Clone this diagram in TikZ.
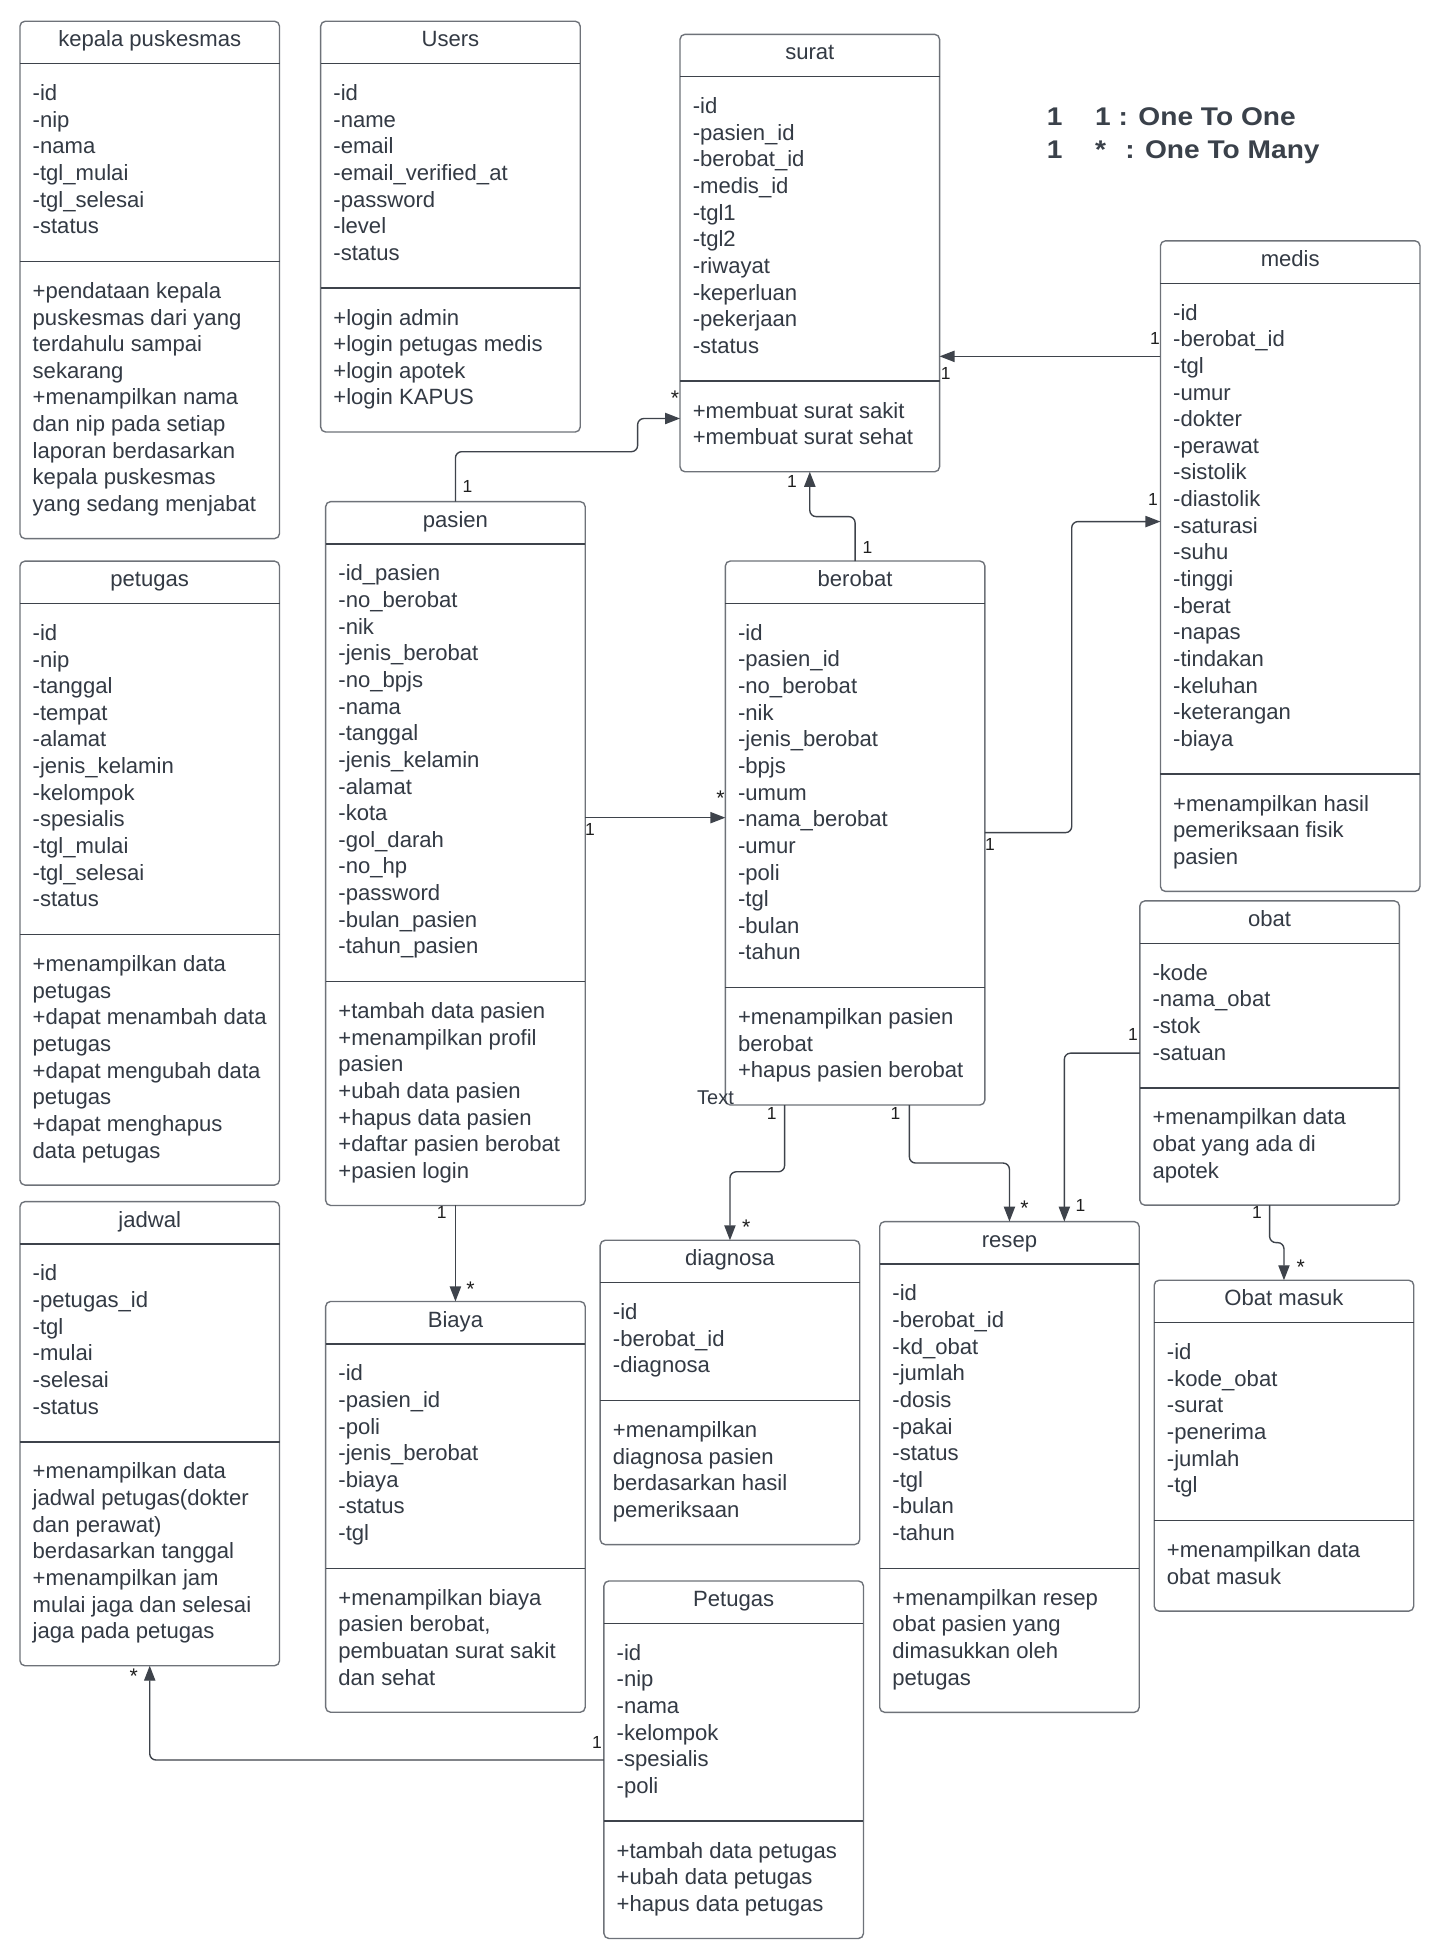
\documentclass[tikz,border=0pt]{standalone}
\usepackage{fontspec}
\usepackage{graphicx}
\setmainfont{Liberation Sans}
\usetikzlibrary{arrows.meta,calc}
\definecolor{txtc}{HTML}{333A44}
\definecolor{boxc}{HTML}{6E7279}
\definecolor{divc}{HTML}{3E434B}
\definecolor{linec}{HTML}{3E434B}
\definecolor{multc}{HTML}{1E1E1E}
\definecolor{legc}{HTML}{3A414A}
\tikzset{
  umlbox/.style={draw=boxc, fill=white, line width=1.1pt, rounded corners=4pt,
    minimum width=208pt, inner sep=0pt, outer sep=0pt},
  divline/.style={draw=divc, line width=1.1pt},
  bodytext/.style={anchor=north west, inner sep=0pt, align=left, text=txtc,
    font=\fontsize{17.7}{21.35}\selectfont},
  titletext/.style={anchor=base, inner sep=0pt, text=txtc,
    font=\fontsize{17.7}{21.35}\selectfont},
  mult/.style={inner sep=0pt, text=multc, font=\fontsize{14}{16}\selectfont},
  multstar/.style={inner sep=0pt, text=multc, font=\fontsize{17}{19}\selectfont},
  legendtext/.style={anchor=base west, inner sep=0pt, text=legc,
    font=\fontsize{20.5}{24}\selectfont\bfseries},
  conn/.style={draw=linec, line width=1.1pt, rounded corners=5pt,
    -{Triangle[length=12pt,width=9pt]}},
}
% #1 name, #2 left, #3 top, #4 n attrs, #5 title, #6 attrs, #7 m methods, #8 methods
\newcommand\umlclass[8]{%
  \pgfmathsetmacro\uHdr{#3+34}%
  \pgfmathsetmacro\uDiv{\uHdr+21.35*#4+30.4}%
  \pgfmathsetmacro\uBot{\uDiv+21.35*#7+30}%
  \pgfmathsetmacro\uHgt{\uBot-#3}%
  \node[umlbox, minimum height=\uHgt pt, anchor=north west] (#1) at (#2,#3) {};
  \draw[divline] (#2,\uHdr) -- ++(208,0);
  \draw[divline] (#2,\uDiv) -- ++(208,0);
  \node[titletext] (#1-title) at (#2+104,#3+20.5) {#5};
  \node[bodytext] (#1-attr) at (#2+10,\uHdr+14.4) {\strut#6};
  \node[bodytext] (#1-meth) at (#2+10,\uDiv+14.5) {\strut#8};
}
\begin{document}
\begin{tikzpicture}[x=1pt,y=-1pt]
\useasboundingbox (0,0) rectangle (1154.8,1568.4);
\fill[white] (0,0) rectangle (1154.8,1568.4);

\umlclass{kepala}{16}{17}{6}{kepala puskesmas}
 {-id\\-nip\\-nama\\-tgl\_mulai\\-tgl\_selesai\\-status}
 {9}{+pendataan kepala\\puskesmas dari yang\\terdahulu sampai\\sekarang\\+menampilkan nama\\dan nip pada setiap\\laporan berdasarkan\\kepala puskesmas\\yang sedang menjabat}

\umlclass{users}{257}{17}{7}{Users}
 {-id\\-name\\-email\\-email\_verified\_at\\-password\\-level\\-status}
 {4}{+login admin\\+login petugas medis\\+login apotek\\+login KAPUS}

\umlclass{surat}{545}{27.5}{10}{surat}
 {-id\\-pasien\_id\\-berobat\_id\\-medis\_id\\-tgl1\\-tgl2\\-riwayat\\-keperluan\\-pekerjaan\\-status}
 {2}{+membuat surat sakit\\+membuat surat sehat}

\umlclass{medis}{930}{193}{17}{medis}
 {-id\\-berobat\_id\\-tgl\\-umur\\-dokter\\-perawat\\-sistolik\\-diastolik\\-saturasi\\-suhu\\-tinggi\\-berat\\-napas\\-tindakan\\-keluhan\\-keterangan\\-biaya}
 {3}{+menampilkan hasil\\pemeriksaan fisik\\pasien}

\umlclass{petugas}{16}{449.7}{11}{petugas}
 {-id\\-nip\\-tanggal\\-tempat\\-alamat\\-jenis\_kelamin\\-kelompok\\-spesialis\\-tgl\_mulai\\-tgl\_selesai\\-status}
 {8}{+menampilkan data\\petugas\\+dapat menambah data\\petugas\\+dapat mengubah data\\petugas\\+dapat menghapus\\data petugas}

\umlclass{pasien}{261}{402}{15}{pasien}
 {-id\_pasien\\-no\_berobat\\-nik\\-jenis\_berobat\\-no\_bpjs\\-nama\\-tanggal\\-jenis\_kelamin\\-alamat\\-kota\\-gol\_darah\\-no\_hp\\-password\\-bulan\_pasien\\-tahun\_pasien}
 {7}{+tambah data pasien\\+menampilkan profil\\pasien\\+ubah data pasien\\+hapus data pasien\\+daftar pasien berobat\\+pasien login}

\umlclass{berobat}{581.3}{449.6}{13}{berobat}
 {-id\\-pasien\_id\\-no\_berobat\\-nik\\-jenis\_berobat\\-bpjs\\-umum\\-nama\_berobat\\-umur\\-poli\\-tgl\\-bulan\\-tahun}
 {3}{+menampilkan pasien\\berobat\\+hapus pasien berobat}

\umlclass{obat}{913.5}{722}{4}{obat}
 {-kode\\-nama\_obat\\-stok\\-satuan}
 {3}{+menampilkan data\\obat yang ada di\\apotek}

\umlclass{jadwal}{16}{963}{6}{jadwal}
 {-id\\-petugas\_id\\-tgl\\-mulai\\-selesai\\-status}
 {7}{+menampilkan data\\jadwal petugas(dokter\\dan perawat)\\berdasarkan tanggal\\+menampilkan jam\\mulai jaga dan selesai\\jaga pada petugas}

\umlclass{biaya}{261}{1043}{7}{Biaya}
 {-id\\-pasien\_id\\-poli\\-jenis\_berobat\\-biaya\\-status\\-tgl}
 {4}{+menampilkan biaya\\pasien berobat,\\pembuatan surat sakit\\dan sehat}

\umlclass{diagnosa}{481}{994}{3}{diagnosa}
 {-id\\-berobat\_id\\-diagnosa}
 {4}{+menampilkan\\diagnosa pasien\\berdasarkan hasil\\pemeriksaan}

\umlclass{resep}{705}{979}{10}{resep}
 {-id\\-berobat\_id\\-kd\_obat\\-jumlah\\-dosis\\-pakai\\-status\\-tgl\\-bulan\\-tahun}
 {4}{+menampilkan resep\\obat pasien yang\\dimasukkan oleh\\petugas}

\umlclass{obatmasuk}{925}{1026}{6}{Obat masuk}
 {-id\\-kode\_obat\\-surat\\-penerima\\-jumlah\\-tgl}
 {2}{+menampilkan data\\obat masuk}

\umlclass{petugas2}{484}{1267}{6}{Petugas}
 {-id\\-nip\\-nama\\-kelompok\\-spesialis\\-poli}
 {3}{+tambah data petugas\\+ubah data petugas\\+hapus data petugas}

% legend
\node[legendtext] (lg1a) at (838.8,100.2) {\scalebox{1.1}[1]{1}};
\node[legendtext] (lg1b) at (877.5,100.2) {\scalebox{1.1}[1]{1 : One To One}};
\node[legendtext] (lg2a) at (838.8,126.9) {\scalebox{1.1}[1]{1}};
\node[legendtext] (lg2b) at (877.5,126.9) {\scalebox{1.1}[1]{*}};
\node[legendtext] (lg2c) at (901.6,126.9) {\scalebox{1.1}[1]{: One To Many}};

% stray text
\node[inner sep=0pt, text=txtc, font=\fontsize{16}{19}\selectfont] (stray) at (573.4,880) {Text};

% connection points
\coordinate (sA) at ($(surat.south west)+(0,-42.7)$);
\coordinate (mS) at ($(medis.north west)+(0,92.6)$);
\coordinate (pB) at ($(pasien.north east)+(0,253.3)$);
\coordinate (bE) at ($(berobat.north east)+(0,217.7)$);
\coordinate (mE) at ($(medis.north west)+(0,225)$);
\coordinate (oL) at ($(obat.north west)+(0,122)$);
\coordinate (pT) at ($(petugas2.north west)+(0,143.5)$);

% connectors
\draw[conn] (pasien.north) |- (511,362) |- (sA);
\draw[conn] (mS) -- (mS -| surat.east);
\draw[conn] (berobat.north) -- ++(0,-35.6) -| (surat.south);
\draw[conn] (pB) -- (pB -| berobat.west);
\draw[conn] (bE) -- ++(69.6,0) |- (mE);
\draw[conn] ($(berobat.south)+(-56.5,0)$) -- ++(0,53.5) -| (diagnosa.north);
\draw[conn] ($(berobat.south)+(43.5,0)$) -- ++(0,46.5) -| (resep.north);
\draw[conn] (oL) -| ($(resep.north west)+(148,0)$);
\draw[conn] (obat.south) -- ++(0,30) -| (obatmasuk.north);
\draw[conn] (pasien.south) -- (biaya.north);
\draw[conn] (pT) -| (jadwal.south);

% multiplicities
\node[mult] (m1) at (374.6,389.6) {1};
\node[multstar] (m2) at (541,319.5) {*};
\node[mult] (m3) at (925.6,271) {1};
\node[mult] (m4) at (758,299) {1};
\node[mult] (m5) at (924,400.7) {1};
\node[mult] (m6) at (634.7,386) {1};
\node[mult] (m7) at (695.3,438.6) {1};
\node[mult] (m8) at (472.8,665) {1};
\node[multstar] (m9) at (577.5,639.5) {*};
\node[mult] (m10) at (793.4,677) {1};
\node[mult] (m11) at (618.4,892) {1};
\node[multstar] (m12) at (598,983.5) {*};
\node[mult] (m13) at (717.7,892) {1};
\node[multstar] (m14) at (821,968.5) {*};
\node[mult] (m15) at (866,966.5) {1};
\node[mult] (m16) at (908,829) {1};
\node[mult] (m17) at (1007.4,972) {1};
\node[multstar] (m18) at (1042.4,1015.5) {*};
\node[mult] (m19) at (354,972) {1};
\node[multstar] (m20) at (377,1033.5) {*};
\node[mult] (m21) at (478.5,1396.6) {1};
\node[multstar] (m22) at (107.2,1343) {*};
\end{tikzpicture}
\end{document}
